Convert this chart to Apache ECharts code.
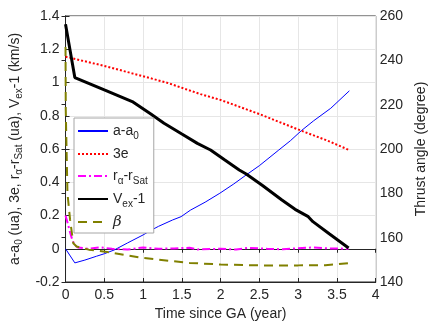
<!DOCTYPE html>
<html>
<head>
<meta charset="utf-8">
<script src="https://cdn.jsdelivr.net/npm/echarts@6/dist/echarts.min.js"></script>
<style>
  html, body { margin: 0; padding: 0; background: #fff; }
  #chart { width: 436px; height: 327px; }
</style>
</head>
<body>
<div id="chart"></div>
<script>
// axis ticks
const xTicks = [0, 0.5, 1, 1.5, 2, 2.5, 3, 3.5, 4];
const leftTicks = [-0.2, 0, 0.2, 0.4, 0.6, 0.8, 1, 1.2, 1.4];
const rightTicks = [140, 160, 180, 200, 220, 240, 260];

// a-a0 (ua)
const tA = [0, 0.12, 0.25, 0.4, 0.5, 0.63, 0.8, 1.0, 1.11, 1.2, 1.38, 1.49, 1.61, 1.8, 1.99, 2.17, 2.33, 2.5, 2.75, 2.9, 3.04, 3.2, 3.42, 3.66];
const aValues = [0, -0.085, -0.068, -0.045, -0.03, -0.007, 0.035, 0.083, 0.113, 0.135, 0.173, 0.193, 0.232, 0.28, 0.334, 0.39, 0.444, 0.5, 0.594, 0.65, 0.71, 0.77, 0.845, 0.95];

// 3e
const tE = [0, 0.5, 0.86, 1.3, 1.74, 2.0, 2.5, 3.04, 3.38, 3.65];
const eValues = [1.155, 1.1, 1.055, 1.0, 0.93, 0.895, 0.81, 0.71, 0.65, 0.595];

// r_alpha - r_Sat (ua)
const tR = [0, 0.03, 0.06, 0.09, 0.12, 0.16, 0.3, 0.45, 0.6, 0.8, 1.0, 1.2, 1.4, 1.6, 1.7, 2.0, 2.2, 2.35, 2.6, 2.8, 3.0, 3.2, 3.4, 3.65];
const rValues = [0.2, 0.15, 0.096, 0.05, 0.02, 0.008, 0.0, 0.008, 0.0, -0.005, 0.008, 0.0, 0.002, 0.006, -0.004, 0.0, -0.005, 0.005, 0.0, -0.003, 0.003, 0.008, 0.002, 0.0];

// Vex - 1 (km/s)
const tV = [0, 0.12, 0.5, 0.86, 1.1, 1.27, 1.5, 1.7, 1.87, 2.05, 2.24, 2.33, 2.54, 2.79, 2.96, 3.13, 3.19, 3.4, 3.65];
const vValues = [1.35, 1.03, 0.955, 0.885, 0.81, 0.755, 0.69, 0.634, 0.594, 0.535, 0.474, 0.45, 0.38, 0.293, 0.237, 0.193, 0.163, 0.09, 0.005];

// beta, thrust angle (degree)
const tB = [0, 0.003, 0.025, 0.059, 0.1, 0.143, 0.3, 0.6, 0.96, 1.38, 1.6, 2.0, 2.5, 3.0, 3.35, 3.5, 3.65];
const bValues = [246, 217.6, 180, 168, 157.5, 156, 154.6, 153.2, 151, 149.4, 148.6, 147.9, 147.5, 147.5, 147.6, 148, 148.5];

const zip = (xs, ys) => xs.map((x, i) => [x, ys[i]]);

const font = "'Liberation Sans', Arial, sans-serif";
const ink = "#262626";
const rich = {
  n: { fontSize: 14, fontFamily: font, color: ink, lineHeight: 18 },
  s: { fontSize: 10, fontFamily: font, color: ink, verticalAlign: "top", padding: [9, 0, 0, 0] },
  b: { fontSize: 15, fontFamily: "'DejaVu Serif', serif", fontStyle: "italic", color: ink, lineHeight: 18 }
};
const legendText = {
  "a-a0": "{n|a-a}{s|0}",
  "3e": "{n|3e}",
  "ra-rSat": "{n|r}{s|α}{n|-r}{s|Sat}",
  "Vex-1": "{n|V}{s|ex}{n|-1}",
  beta: "{b|β}"
};

const chart = echarts.init(document.getElementById("chart"));
chart.setOption({
  animation: false,
  textStyle: { fontFamily: font },
  grid: { left: 62, right: 57, top: 16, bottom: 45, show: true, borderColor: ink, borderWidth: 1 },
  legend: {
    orient: "vertical",
    left: 74,
    top: 118,
    itemWidth: 30,
    itemHeight: 14,
    itemGap: 4,
    padding: [4, 6, 2, 3],
    borderColor: "#a6a6a6",
    borderWidth: 1,
    backgroundColor: "#fff",
    selectedMode: false,
    // line samples only, no marker
    itemStyle: { opacity: 0 },
    formatter: (name) => legendText[name],
    textStyle: { rich: rich, fontSize: 14, lineHeight: 18 },
    data: ["a-a0", "3e", "ra-rSat", "Vex-1", "beta"]
  },
  xAxis: [
    {
      type: "value",
      min: xTicks[0],
      max: xTicks[xTicks.length - 1],
      interval: 0.5,
      name: "Time since GA (year)",
      nameLocation: "middle",
      nameGap: 24,
      nameTextStyle: { fontSize: 14, color: ink },
      axisLine: { onZero: false, lineStyle: { color: ink } },
      axisTick: { inside: true, length: 4, lineStyle: { color: ink } },
      axisLabel: { fontSize: 14, color: ink, margin: 6 },
      splitLine: { show: true, lineStyle: { color: "#e6e6e6" } }
    },
    {
      type: "value",
      position: "top",
      min: xTicks[0],
      max: xTicks[xTicks.length - 1],
      interval: 0.5,
      axisLine: { show: true, lineStyle: { color: ink } },
      axisTick: { inside: true, length: 4, lineStyle: { color: ink } },
      axisLabel: { show: false },
      splitLine: { show: false }
    }
  ],
  yAxis: [
    {
      type: "value",
      min: leftTicks[0],
      max: leftTicks[leftTicks.length - 1],
      interval: 0.2,
      name: "{n|a-a}{s|0}{n| (ua), 3e, r}{s|α}{n|-r}{s|Sat}{n| (ua), V}{s|ex}{n|-1 (km/s)}",
      nameLocation: "middle",
      nameGap: 31,
      nameRotate: 90,
      nameTextStyle: { rich: rich },
      axisLine: { show: true, onZero: false, lineStyle: { color: ink } },
      axisTick: { show: true, inside: true, length: 4, lineStyle: { color: ink } },
      axisLabel: { fontSize: 14, color: ink, margin: 6 },
      splitLine: { show: true, lineStyle: { color: "#e6e6e6" } }
    },
    {
      type: "value",
      position: "right",
      min: rightTicks[0],
      max: rightTicks[rightTicks.length - 1],
      interval: 20,
      name: "Thrust angle (degree)",
      nameLocation: "middle",
      nameGap: 32,
      nameRotate: 90,
      nameTextStyle: { fontSize: 14, color: ink },
      axisLine: { show: true, lineStyle: { color: ink } },
      axisTick: { show: true, inside: true, length: 4, lineStyle: { color: ink } },
      axisLabel: { fontSize: 14, color: ink, margin: 4 },
      splitLine: { show: false }
    }
  ],
  series: [
    {
      name: "a-a0", type: "line", symbol: "none", data: zip(tA, aValues),
      lineStyle: { color: "#0000ff", width: 1 }, itemStyle: { color: "#0000ff" }
    },
    {
      name: "3e", type: "line", symbol: "none", data: zip(tE, eValues),
      lineStyle: { color: "#ff0000", width: 2, type: [2, 2] }, itemStyle: { color: "#ff0000" }
    },
    {
      name: "ra-rSat", type: "line", symbol: "none", data: zip(tR, rValues),
      lineStyle: { color: "#ff00ff", width: 2, type: [8, 3, 2, 3] }, itemStyle: { color: "#ff00ff" }
    },
    {
      name: "Vex-1", type: "line", symbol: "none", data: zip(tV, vValues),
      lineStyle: { color: "#000000", width: 3 }, itemStyle: { color: "#000000" }
    },
    {
      name: "beta", type: "line", symbol: "none", yAxisIndex: 1, data: zip(tB, bValues),
      lineStyle: { color: "#808000", width: 2, type: [9, 6] }, itemStyle: { color: "#808000" }
    }
  ]
});
</script>
</body>
</html>
